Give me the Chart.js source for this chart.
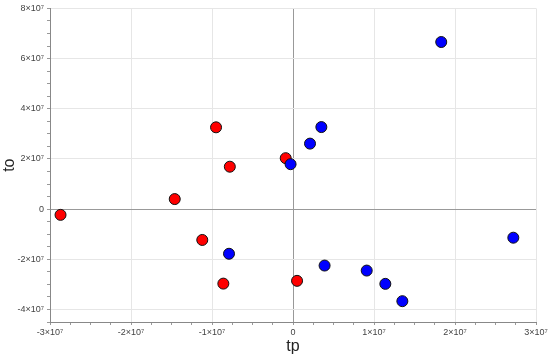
<!DOCTYPE html>
<html lang="en">
<head>
  <meta charset="UTF-8">
  <title>tp vs to</title>
  <script src="https://cdn.jsdelivr.net/npm/chart.js@4.4.0/dist/chart.umd.min.js"></script>
  <style>
    html, body { margin: 0; padding: 0; background: #fff; }
    #wrap { width: 550px; height: 356px; }
  </style>
</head>
<body>
  <div id="wrap"><canvas id="scatterChart"></canvas></div>
  <script>
    // values (units of 1)
    const redTp = [-2.87e7, -1.46e7, -0.95e7, -0.78e7, -0.09e7, -1.12e7, -0.86e7, 0.05e7];
    const redTo = [-0.23e7, 0.40e7, 3.26e7, 1.69e7, 2.03e7, -1.23e7, -2.97e7, -2.86e7];
    const blueTp = [1.83e7, 0.35e7, 0.21e7, -0.03e7, 2.72e7, 0.39e7, 0.91e7, 1.14e7, 1.35e7, -0.79e7];
    const blueTo = [6.66e7, 3.27e7, 2.61e7, 1.79e7, -1.14e7, -2.25e7, -2.45e7, -2.98e7, -3.67e7, -1.78e7];
    const xMajor = [-3e7, -2e7, -1e7, 0, 1e7, 2e7, 3e7];
    const yMajor = [-4e7, -2e7, 0, 2e7, 4e7, 6e7, 8e7];

    function pts(xs, ys) {
      return xs.map((x, i) => ({ x: x, y: ys[i] }));
    }

    function sciLabel(v) {
      if (v === 0) return '0';
      const m = Math.round(v / 1e7);
      return m + '×10⁷';
    }

    function isMajor(v, list) {
      return list.some(m => Math.abs(m - v) < 1);
    }

    const ctx = document.getElementById('scatterChart').getContext('2d');
    const chart = new Chart(ctx, {
      type: 'scatter',
      data: {
        datasets: [
          {
            label: 'blue',
            data: pts(blueTp, blueTo),
            backgroundColor: '#0000ff',
            borderColor: '#111',
            borderWidth: 1,
            pointRadius: 5.5
          },
          {
            label: 'red',
            data: pts(redTp, redTo),
            backgroundColor: '#ff0000',
            borderColor: '#111',
            borderWidth: 1,
            pointRadius: 5.5
          }
        ]
      },
      options: {
        responsive: true,
        maintainAspectRatio: false,
        animation: false,
        layout: { padding: { top: 8, right: 14, left: 0, bottom: 0 } },
        plugins: { legend: { display: false }, tooltip: { enabled: false } },
        scales: {
          x: {
            type: 'linear',
            min: -3e7,
            max: 3e7,
            afterFit: s => { s.height = 34; },
            border: { color: '#888', width: 1 },
            grid: {
              color: c => c.tick.value === 0 ? '#999' : (isMajor(c.tick.value, xMajor) ? '#e6e6e6' : 'rgba(0,0,0,0)'),
              tickColor: '#999',
              tickLength: 3
            },
            ticks: {
              stepSize: 2.5e6,
              autoSkip: false,
              maxRotation: 0,
              padding: 2,
              color: '#444',
              font: { family: 'Liberation Sans', size: 9 },
              callback: v => isMajor(v, xMajor) ? sciLabel(v) : ''
            },
            title: {
              display: true,
              text: 'tp',
              color: '#222',
              padding: 0,
              font: { family: 'Liberation Sans', size: 16 }
            }
          },
          y: {
            type: 'linear',
            min: -4.5e7,
            max: 8e7,
            afterFit: s => { s.width = 50; },
            border: { color: '#888', width: 1 },
            grid: {
              color: c => c.tick.value === 0 ? '#999' : (isMajor(c.tick.value, yMajor) ? '#e6e6e6' : 'rgba(0,0,0,0)'),
              tickColor: '#999',
              tickLength: 3
            },
            ticks: {
              stepSize: 5e6,
              autoSkip: false,
              padding: 3,
              color: '#444',
              font: { family: 'Liberation Sans', size: 9 },
              callback: v => isMajor(v, yMajor) ? sciLabel(v) : ''
            },
            title: {
              display: true,
              text: 'to',
              color: '#222',
              padding: 0,
              font: { family: 'Liberation Sans', size: 16 }
            }
          }
        }
      }
    });
  </script>
</body>
</html>
